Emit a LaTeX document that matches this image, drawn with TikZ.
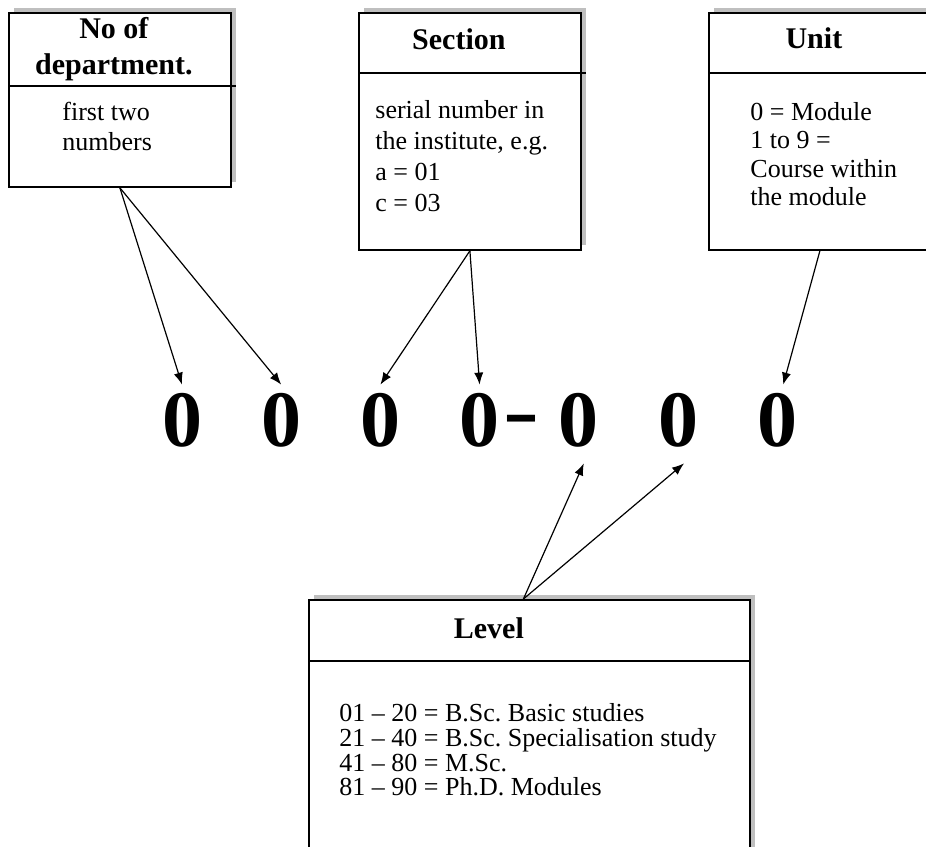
\documentclass[tikz,border=0pt]{standalone}
\usepackage{fontspec}
\setmainfont{Liberation Serif}
\usetikzlibrary{positioning,shadows,arrows.meta}
\frenchspacing
\begin{document}
\begin{tikzpicture}[x=0.5pt,y=-0.5pt,
box/.style={draw,line width=0.9pt,fill=white,inner sep=0pt,anchor=north west,
  drop shadow={shadow xshift=2.3pt,shadow yshift=2.3pt,fill=gray!50,opacity=1}},
head/.style={font=\fontsize{15}{18}\selectfont\bfseries,align=center,inner sep=0pt},
body/.style={anchor=north west,align=left,inner sep=0pt},
digit/.style={font=\fontsize{40}{40}\selectfont\bfseries,inner sep=4pt},
arr/.style={-{Latex[length=6pt,width=4.6pt]},line width=0.6pt}]
\useasboundingbox (0,0) rectangle (926,846);
\clip (0,0) rectangle (926,846);

\node[box,minimum width=111pt,minimum height=87pt] (dept) at (8,12) {};
\node[box,minimum width=111pt,minimum height=118.5pt] (sect) at (358,12) {};
\node[box,minimum width=111pt,minimum height=118.5pt] (unit) at (708,12) {};
\node[box,minimum width=220.5pt,minimum height=150pt] (level) at (308,599) {};

\draw[line width=0.8pt] ([yshift=-37pt]dept.north west) -- ([xshift=2pt,yshift=-37pt]dept.north east);
\draw[line width=0.8pt] ([yshift=-30.5pt]sect.north west) -- ([xshift=2pt,yshift=-30.5pt]sect.north east);
\draw[line width=0.8pt] ([yshift=-30.5pt]unit.north west) -- ([yshift=-30.5pt]unit.north east);
\draw[line width=0.8pt] ([yshift=-31pt]level.north west) -- ([xshift=-1pt,yshift=-31pt]level.north east);

\node[head] (depthead) at ([xshift=-3pt,yshift=-18.75pt]dept.north) {No of\\department.};
\node[head] (secthead) at ([xshift=-5.5pt,yshift=-13.5pt]sect.north) {Section};
\node[head] (unithead) at ([xshift=-3pt,yshift=-13pt]unit.north) {Unit};
\node[head] (levelhead) at ([xshift=-20.25pt,yshift=-14.75pt]level.north) {Level};

\node[body,font=\fontsize{13}{15}\selectfont] (deptbody) at ([xshift=27pt,yshift=-45pt]dept.north west) {first two\\numbers};
\node[body,font=\fontsize{13}{15.5}\selectfont] (sectbody) at ([xshift=8.5pt,yshift=-44pt]sect.north west) {serial number in\\the institute, e.g.\\a = 01\\c = 03};
\node[body,font=\fontsize{13}{14.2}\selectfont] (unitbody) at ([xshift=21pt,yshift=-45pt]unit.north west) {0 = Module\\1 to 9 =\\Course within\\the module};
\node[body,font=\fontsize{13}{12.4}\selectfont] (levelbody) at ([xshift=15.5pt,yshift=-52pt]level.north west) {01 – 20 = B.Sc. Basic studies\\21 – 40 = B.Sc. Specialisation study\\41 – 80 = M.Sc.\\81 – 90 = Ph.D. Modules};

\node[digit] (1) at (182,420) {0};
\node[digit] (2) [right of=1,node distance=49.6pt] {0};
\node[digit] (3) [right of=2,node distance=49.6pt] {0};
\node[digit] (4) [right of=3,node distance=49.6pt] {0};
\node[digit] (5) [right of=4,node distance=49.6pt] {0};
\node[digit] (6) [right of=5,node distance=49.6pt] {0};
\node[digit] (7) [right of=6,node distance=49.6pt] {0};
\node[digit,inner sep=0pt] (dash) [right of=4,node distance=21pt,yshift=-3pt] {\scalebox{1.35}[1]{-}};

\draw[arr] (dept.south) -- (1.north);
\draw[arr] (dept.south) -- (2.north);
\draw[arr] (sect.south) -- (3.north);
\draw[arr] (sect.south) -- (4.north);
\draw[arr] (unit.south) -- ([xshift=3pt]7.north);
\draw[arr] ([xshift=-3pt]level.north) -- ([xshift=2.5pt,yshift=-4pt]5.south);
\draw[arr] ([xshift=-3pt]level.north) -- ([xshift=3pt,yshift=-4pt]6.south);
\end{tikzpicture}
\end{document}
